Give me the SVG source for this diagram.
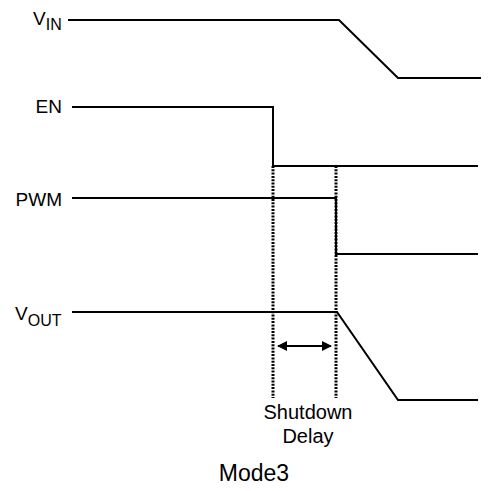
<svg xmlns="http://www.w3.org/2000/svg" width="494" height="491" viewBox="0 0 494 491">
<defs>
<style>
.sig{fill:none;stroke:#000;stroke-width:2;stroke-linejoin:miter}
.dot{fill:none;stroke:#000;stroke-width:3;stroke-dasharray:2,1.3}
.lbl{font-family:"Liberation Sans",Arial,sans-serif;fill:#000}
</style>
<marker id="ah" viewBox="0 0 10 10" refX="9" refY="5" markerWidth="5" markerHeight="5" orient="auto-start-reverse" markerUnits="strokeWidth">
<path d="M0,0 L10,5 L0,10 z" fill="#000"/>
</marker>
</defs>
<rect width="494" height="491" fill="#fff"/>
<g id="connectors">
<polyline id="vin-wave" class="sig" points="68,20 339,20 398,78 481,78"/>
<polyline id="en-wave" class="sig" points="72,107 273,107 273,166 478,166"/>
<polyline id="pwm-wave" class="sig" points="72,198 336,198 336,254 478,254"/>
<polyline id="vout-wave" class="sig" points="72,312 337,312 398,400 478,400"/>
<line class="dot" x1="273" y1="166" x2="273" y2="398"/>
<line class="dot" x1="336" y1="166" x2="336" y2="398"/>
<line id="delay-arrow" x1="278" y1="346" x2="331" y2="346" stroke="#000" stroke-width="2" marker-start="url(#ah)" marker-end="url(#ah)"/>
</g>
<g id="vin"><text class="lbl" x="33" y="25" font-size="19">V<tspan font-size="16" dy="5">IN</tspan></text></g>
<g id="en"><text class="lbl" x="62" y="113" font-size="19" text-anchor="end">EN</text></g>
<g id="pwm"><text class="lbl" x="62" y="206" font-size="19" text-anchor="end">PWM</text></g>
<g id="vout"><text class="lbl" x="15" y="320" font-size="19">V<tspan font-size="16" dy="6">OUT</tspan></text></g>
<g id="delay-label"><text class="lbl" x="308" y="419" font-size="20" text-anchor="middle">Shutdown</text><text class="lbl" x="308" y="443" font-size="20" text-anchor="middle">Delay</text></g>
<g id="title"><text class="lbl" x="254" y="481" font-size="23" text-anchor="middle">Mode3</text></g>
</svg>
